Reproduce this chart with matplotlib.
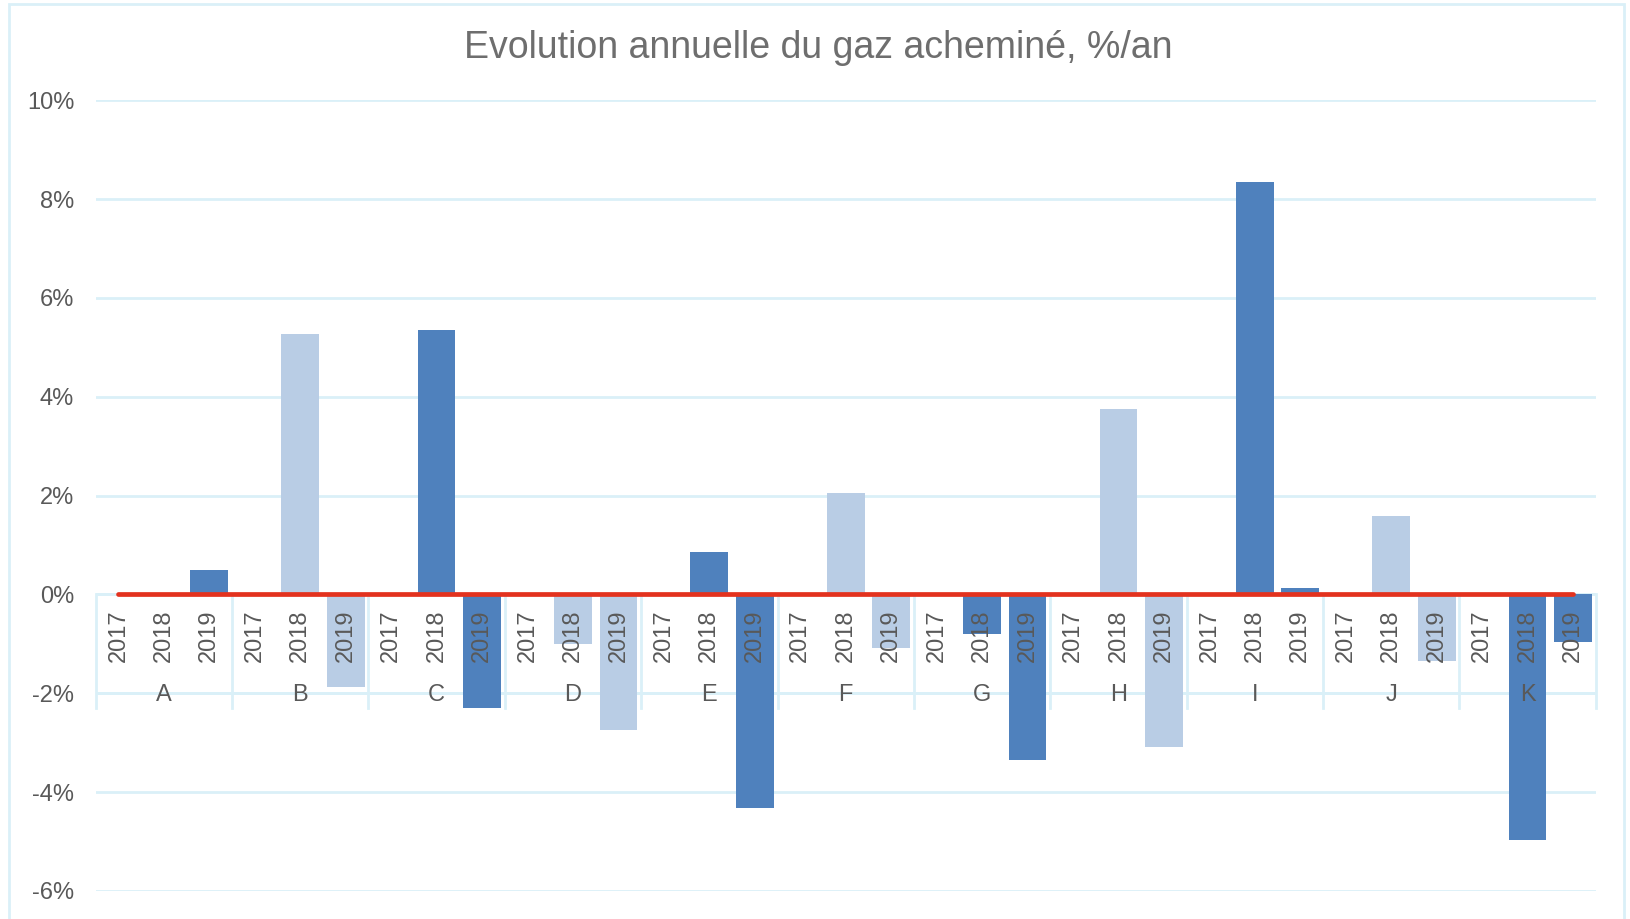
import numpy as np
import matplotlib
matplotlib.use("Agg")
import matplotlib.pyplot as plt
import matplotlib.transforms as mtransforms
from matplotlib.patches import Rectangle

# data (%/an)
groups = ["A", "B", "C", "D", "E", "F", "G", "H", "I", "J", "K"]
years = ["2017", "2018", "2019"]
v2017 = [0.0, 0.0, 0.0, 0.0, 0.0, 0.0, 0.0, 0.0, 0.0, 0.0, 0.0]
v2018 = [0.0, 5.27, 5.36, -1.01, 0.86, 2.06, -0.80, 3.76, 8.34, 1.58, -4.96]
v2019 = [0.50, -1.87, -2.29, -2.75, -4.33, -1.09, -3.36, -3.09, 0.13, -1.34, -0.97]
yticks = [-6, -4, -2, 0, 2, 4, 6, 8, 10]

dark = "#4F81BD"
light = "#B9CDE5"
grid_col = "#DAF0F8"
txt_col = "#595959"

plt.rcParams['font.family'] = ['Liberation Sans', 'DejaVu Sans']

fig = plt.figure(figsize=(16.3, 9.19), dpi=100)
ax = fig.add_axes([0.0587, 0.0305, 0.9203, 0.8605])

values = np.array([v2017, v2018, v2019]).T.flatten()
x = np.arange(len(values))
colors = []
for g in range(len(groups)):
    c = dark if g % 2 == 0 else light
    colors += [c] * len(years)

ax.bar(x, values, width=0.83, color=colors, zorder=2)

# zero line series in red
ax.plot(x, np.zeros(len(x)), color="#E3321E", lw=3.4, solid_capstyle="round", zorder=4)

ax.set_xlim(-0.5, len(x) - 0.5)
ax.set_ylim(-6, 10)
ax.set_yticks(yticks)
ax.set_yticklabels(["%d%%" % t for t in yticks], color=txt_col, fontsize=17)
ax.tick_params(axis="y", length=0, pad=15.5)
ax.set_xticks([])
for s in ax.spines.values():
    s.set_visible(False)
ax.grid(axis="y", color=grid_col, lw=2, zorder=0)

# multi-level category axis (years, then groups)
trans = mtransforms.blended_transform_factory(ax.transData, ax.transAxes)
y0 = 6 / 16.0
ax.axhline(0, color=grid_col, lw=2, zorder=1)
for b in np.arange(len(groups) + 1) * 3 - 0.5:
    ax.plot([b, b], [y0, 0.232], color=grid_col, lw=2, transform=trans, zorder=1, clip_on=False)
ax.plot([-0.5, len(x) - 0.5], [0.25, 0.25], color=grid_col, lw=2, transform=trans, zorder=1)

for i in x:
    ax.text(i, -0.84, years[i % 3], rotation=90, ha="center", va="center",
            color=txt_col, fontsize=17, zorder=5)
for g, name in enumerate(groups):
    ax.text(g * 3 + 1, -2.03, name, ha="center", va="center", color=txt_col, fontsize=17, zorder=5)

fig.text(0.502, 0.948, "Evolution annuelle du gaz acheminé, %/an", ha="center", va="center",
         color="#6E6E6E", fontsize=27)

# chart border
fig.patches.append(Rectangle((0.0055, -0.05), 0.991, 1.0456, transform=fig.transFigure,
                             fill=False, edgecolor=grid_col, lw=2))

fig.savefig("out.png", dpi=100)
